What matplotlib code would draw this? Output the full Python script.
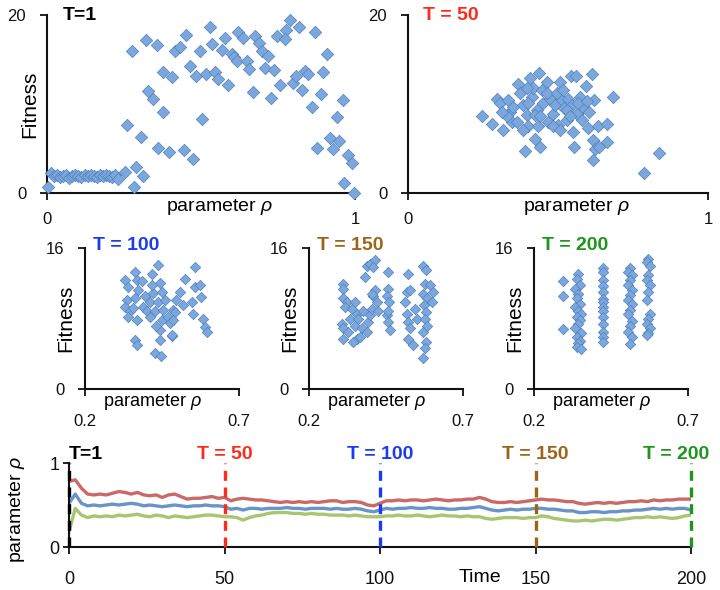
import numpy as np
import matplotlib
matplotlib.use("Agg")
import matplotlib.pyplot as plt

plt.rcParams['font.family'] = ['Liberation Sans', 'DejaVu Sans']
plt.rcParams['mathtext.fontset'] = 'custom'
plt.rcParams['mathtext.it'] = 'Liberation Sans:italic'
plt.rcParams['mathtext.rm'] = 'Liberation Sans'

# ---- T=1 population (rho, fitness)
t1_rho = [0.004, 0.012, 0.022, 0.032, 0.042, 0.052, 0.062, 0.072, 0.082, 0.092, 0.102,
          0.112, 0.122, 0.132, 0.142, 0.152, 0.162, 0.172, 0.182, 0.192, 0.202, 0.212,
          0.222, 0.230, 0.253, 0.284, 0.290, 0.313,
          0.275, 0.261, 0.305, 0.321, 0.356, 0.329, 0.345, 0.378, 0.405, 0.375, 0.361,
          0.396, 0.416, 0.432, 0.451, 0.445, 0.475, 0.464, 0.483, 0.497, 0.504, 0.515,
          0.529, 0.535, 0.547, 0.554, 0.567, 0.578, 0.589, 0.600, 0.608, 0.621, 0.637,
          0.616, 0.648, 0.657, 0.668, 0.675, 0.689, 0.697, 0.719, 0.708, 0.738, 0.726,
          0.748, 0.758, 0.776, 0.773, 0.789, 0.819, 0.798, 0.810, 0.829, 0.838, 0.849,
          0.859, 0.870, 0.890, 0.897, 0.908, 0.878, 0.919, 0.928, 0.949, 0.940, 0.960,
          0.978, 0.989, 0.964, 0.997]
t1_fit = [0.7, 2.2, 1.9, 2.0, 1.8, 1.9, 2.0, 1.7, 1.9, 2.0, 1.9,
          1.8, 2.0, 1.9, 2.0, 1.9, 1.8, 2.0, 1.9, 2.0, 1.9, 1.8,
          2.0, 1.6, 2.4, 0.7, 2.9, 1.9,
          15.9, 7.6, 6.3, 17.2, 16.6, 11.5, 10.6, 13.6, 13.0, 9.1, 5.1,
          4.6, 16.0, 16.4, 17.8, 4.8, 3.8, 14.3, 13.1, 16.0, 8.3, 13.4,
          18.6, 16.7, 13.6, 12.8, 16.1, 17.4, 12.1, 15.6, 15.3, 18.1, 17.4,
          14.8, 14.8, 13.9, 11.3, 17.6, 16.9, 15.9, 15.4, 14.0, 13.8, 10.7,
          17.6, 12.1, 18.3, 17.3, 19.4, 18.6, 12.4, 13.1, 11.6, 13.7, 13.4,
          9.7, 18.1, 11.1, 13.6, 15.6, 5.1, 6.2, 5.0, 5.8, 8.5, 10.5,
          4.3, 3.4, 1.1, 0.0]

# ---- T=50 population
t50_rho = [0.246, 0.279, 0.296, 0.305, 0.318, 0.334, 0.340, 0.351, 0.346, 0.368,
           0.373, 0.384, 0.390, 0.398, 0.401, 0.407, 0.412, 0.418, 0.423, 0.429,
           0.434, 0.438, 0.440, 0.446, 0.451, 0.462, 0.468, 0.473, 0.482, 0.490,
           0.501, 0.507, 0.512, 0.520, 0.529, 0.534, 0.542, 0.545, 0.551, 0.553,
           0.560, 0.562, 0.573, 0.584, 0.593, 0.601, 0.604, 0.612, 0.615, 0.618,
           0.621, 0.623, 0.634, 0.638, 0.662, 0.662, 0.684, 0.787, 0.838,
           0.384, 0.401, 0.423, 0.462, 0.484, 0.496, 0.518, 0.529, 0.540, 0.568,
           0.579, 0.596, 0.329, 0.362, 0.312, 0.396, 0.440, 0.507]
t50_fit = [8.7, 7.7, 10.6, 10.1, 7.1, 10.4, 9.1, 9.7, 8.0, 12.3,
           11.2, 9.9, 4.7, 8.8, 7.5, 12.9, 10.8, 11.8, 6.1, 9.3,
           7.5, 13.5, 5.2, 11.6, 10.1, 12.5, 8.0, 10.6, 8.9, 9.9,
           7.6, 12.5, 10.4, 9.5, 8.2, 10.6, 13.1, 9.9, 6.9, 5.2,
           13.1, 8.9, 10.8, 9.7, 12.0, 7.3, 9.1, 13.4, 5.9, 3.7,
           10.4, 4.9, 7.5, 5.2, 7.8, 5.7, 10.8, 2.3, 4.5,
           7.1, 10.1, 8.8, 11.2, 7.5, 11.2, 11.6, 9.3, 8.6, 10.1,
           8.2, 10.3, 8.6, 8.0, 9.1, 11.8, 8.6, 7.1]

# ---- T=100 population
t100_rho = [0.330, 0.341, 0.335, 0.330, 0.346, 0.341, 0.362, 0.368, 0.373, 0.362,
            0.357, 0.368, 0.362, 0.368, 0.386, 0.395, 0.389, 0.400, 0.416, 0.422,
            0.411, 0.427, 0.438, 0.443, 0.449, 0.438, 0.454, 0.449, 0.443, 0.459,
            0.470, 0.476, 0.481, 0.443, 0.427, 0.446, 0.411, 0.432, 0.487, 0.497,
            0.416, 0.557, 0.524, 0.508, 0.519, 0.546, 0.551, 0.557, 0.573, 0.578,
            0.584, 0.589, 0.595, 0.492, 0.487, 0.481]
t100_fit = [12.4, 11.6, 10.1, 9.3, 8.8, 8.2, 13.3, 12.4, 11.2, 10.3,
            9.2, 7.8, 5.6, 5.0, 12.2, 10.5, 9.3, 8.8, 13.1, 10.9,
            9.9, 8.8, 14.1, 12.0, 11.0, 9.9, 9.0, 7.8, 6.7, 10.1,
            8.2, 7.5, 6.0, 5.6, 4.1, 3.8, 8.2, 7.1, 9.0, 10.1,
            11.8, 13.8, 12.5, 11.0, 9.5, 9.9, 8.5, 11.6, 11.8, 10.4,
            8.0, 7.0, 6.5, 8.7, 7.8, 6.1]

# ---- T=150 population
t150_rho = [0.311, 0.311, 0.311, 0.322, 0.316, 0.306, 0.311, 0.311, 0.327, 0.333,
            0.339, 0.349, 0.355, 0.360, 0.349, 0.355, 0.344, 0.366, 0.371, 0.376,
            0.382, 0.387, 0.398, 0.414, 0.409, 0.392, 0.398, 0.387, 0.403, 0.409,
            0.414, 0.420, 0.403, 0.425, 0.457, 0.457, 0.454, 0.460, 0.452, 0.457,
            0.463, 0.457, 0.522, 0.517, 0.512, 0.517, 0.522, 0.528, 0.522, 0.539,
            0.528, 0.544, 0.550, 0.571, 0.580, 0.577, 0.571, 0.582, 0.573, 0.580,
            0.577, 0.582, 0.571, 0.580, 0.577, 0.571, 0.593, 0.601, 0.598]
t150_fit = [11.9, 11.4, 10.3, 9.9, 9.3, 7.4, 6.9, 5.7, 6.5, 8.0,
            9.1, 9.9, 8.5, 8.0, 7.2, 5.7, 5.3, 5.9, 6.9, 8.9,
            12.7, 14.0, 14.2, 14.6, 13.8, 7.6, 8.4, 6.5, 9.1, 10.6,
            11.2, 9.9, 10.8, 8.9, 13.3, 11.4, 10.6, 9.9, 8.4, 7.6,
            6.7, 8.9, 13.1, 11.0, 9.9, 8.5, 7.6, 6.9, 5.7, 5.0,
            11.2, 9.1, 8.0, 14.0, 13.5, 11.9, 10.8, 10.3, 9.5, 8.7,
            8.0, 7.2, 6.5, 5.3, 4.6, 3.5, 11.8, 11.0, 9.9]

# ---- T=200 population
t200_rho = [0.295, 0.295, 0.295,
            0.344, 0.338, 0.350, 0.333, 0.344, 0.338, 0.350, 0.333, 0.344, 0.354,
            0.338, 0.350, 0.344, 0.333, 0.354, 0.338, 0.350, 0.344, 0.338, 0.354,
            0.425, 0.425, 0.425, 0.425, 0.425, 0.425, 0.425, 0.425, 0.425, 0.425,
            0.425, 0.425, 0.425, 0.425,
            0.511, 0.506, 0.517, 0.511, 0.506, 0.517, 0.511, 0.506, 0.517, 0.511,
            0.506, 0.517, 0.511, 0.506, 0.517, 0.511,
            0.571, 0.566, 0.576, 0.571, 0.566, 0.576, 0.571, 0.566, 0.576, 0.571,
            0.566, 0.576, 0.571, 0.566]
t200_fit = [12.2, 10.5, 6.85,
            13.0, 12.5, 11.8, 11.3, 10.8, 10.3, 9.7, 9.3, 8.9, 8.5,
            8.2, 7.8, 7.4, 6.9, 6.4, 5.9, 5.5, 5.2, 4.8, 4.5,
            13.7, 13.3, 12.4, 11.7, 11.0, 10.2, 9.9, 9.3, 8.9, 8.2,
            7.4, 6.5, 5.9, 5.3,
            13.7, 13.3, 12.9, 12.4, 11.8, 11.2, 10.7, 10.1, 9.6, 9.0,
            8.5, 7.7, 7.1, 6.5, 5.9, 5.1,
            14.8, 14.4, 14.0, 12.9, 12.4, 11.8, 11.0, 10.1, 8.5, 8.0,
            7.4, 6.9, 6.3, 6.1]

# ---- time course of rho (max / mean / min), sampled every 2 steps
time = np.arange(0, 201, 2)
rho_max = [0.78, 0.80, 0.70, 0.63, 0.62, 0.63, 0.62, 0.64, 0.66, 0.65, 0.63, 0.65, 0.62,
           0.61, 0.62, 0.59, 0.62, 0.63, 0.60, 0.57, 0.58, 0.58, 0.59, 0.60, 0.58, 0.59,
           0.55, 0.57, 0.58, 0.57, 0.56, 0.56, 0.55, 0.54, 0.53, 0.54, 0.53, 0.54, 0.53,
           0.54, 0.53, 0.54, 0.55, 0.55, 0.53, 0.54, 0.54, 0.53, 0.50, 0.49, 0.52, 0.55,
           0.55, 0.56, 0.55, 0.56, 0.56, 0.55, 0.56, 0.57, 0.56, 0.55, 0.56, 0.56, 0.57,
           0.57, 0.59, 0.57, 0.54, 0.53, 0.53, 0.54, 0.53, 0.54, 0.55, 0.56, 0.57, 0.56,
           0.56, 0.55, 0.54, 0.54, 0.52, 0.51, 0.52, 0.53, 0.52, 0.53, 0.52, 0.53, 0.54,
           0.54, 0.55, 0.54, 0.56, 0.55, 0.56, 0.56, 0.57, 0.57, 0.57]
rho_mean = [0.52, 0.63, 0.52, 0.49, 0.50, 0.49, 0.50, 0.51, 0.50, 0.51, 0.52, 0.51, 0.49,
            0.50, 0.49, 0.48, 0.49, 0.50, 0.49, 0.48, 0.49, 0.49, 0.50, 0.49, 0.49, 0.48,
            0.45, 0.46, 0.44, 0.46, 0.46, 0.45, 0.46, 0.46, 0.46, 0.47, 0.46, 0.46, 0.45,
            0.46, 0.46, 0.46, 0.45, 0.46, 0.45, 0.45, 0.46, 0.45, 0.43, 0.42, 0.44, 0.46,
            0.45, 0.46, 0.46, 0.47, 0.46, 0.46, 0.47, 0.46, 0.46, 0.45, 0.45, 0.46, 0.46,
            0.47, 0.48, 0.46, 0.44, 0.43, 0.44, 0.45, 0.44, 0.45, 0.45, 0.46, 0.46, 0.45,
            0.45, 0.44, 0.43, 0.43, 0.41, 0.41, 0.42, 0.42, 0.41, 0.42, 0.42, 0.43, 0.43,
            0.44, 0.44, 0.45, 0.46, 0.45, 0.46, 0.45, 0.46, 0.46, 0.44]
rho_min = [0.18, 0.46, 0.38, 0.35, 0.37, 0.36, 0.37, 0.36, 0.38, 0.37, 0.38, 0.39, 0.37,
           0.36, 0.38, 0.37, 0.35, 0.37, 0.36, 0.35, 0.36, 0.37, 0.38, 0.38, 0.37, 0.36,
           0.36, 0.35, 0.32, 0.35, 0.37, 0.38, 0.40, 0.41, 0.41, 0.41, 0.40, 0.40, 0.39,
           0.40, 0.39, 0.39, 0.38, 0.38, 0.38, 0.37, 0.38, 0.37, 0.36, 0.36, 0.36, 0.37,
           0.37, 0.38, 0.37, 0.37, 0.38, 0.37, 0.36, 0.37, 0.38, 0.37, 0.37, 0.36, 0.37,
           0.36, 0.36, 0.34, 0.33, 0.34, 0.35, 0.35, 0.35, 0.34, 0.35, 0.35, 0.37, 0.36,
           0.34, 0.33, 0.32, 0.31, 0.31, 0.32, 0.31, 0.32, 0.33, 0.33, 0.32, 0.33, 0.34,
           0.35, 0.35, 0.36, 0.35, 0.36, 0.35, 0.34, 0.35, 0.37, 0.38]

snap_times = [0, 50, 100, 150, 200]
snap_labels = ['T=1', 'T = 50', 'T = 100', 'T = 150', 'T = 200']
snap_colors = ['#000000', '#ff2a1a', '#1a3cf0', '#9c6419', '#1e961e']

W, H = 720, 590
fig = plt.figure(figsize=(W / 100, H / 100), dpi=100)


def box(l, r, top, bottom):
    return fig.add_axes([l / W, 1 - bottom / H, (r - l) / W, (bottom - top) / H])


def style(ax):
    for s in ['top', 'right']:
        ax.spines[s].set_visible(False)
    for s in ['left', 'bottom']:
        ax.spines[s].set_linewidth(1.5)
        ax.spines[s].set_color('#111111')
    ax.tick_params(direction='out', length=5, width=1.3, colors='#111111')


face = '#7ba7dc'
edge = '#4f81bd'

# top row
for (l, r), rho, fit, k in [((47, 355), t1_rho, t1_fit, 0),
                            ((408, 708), t50_rho, t50_fit, 1)]:
    ax = box(l, r, 15, 193)
    style(ax)
    ax.scatter(rho, fit, marker='D', s=40, c=face, edgecolors=edge, linewidths=0.5,
               clip_on=False, zorder=3)
    ax.set_xlim(0, 1)
    ax.set_ylim(0, 20)
    ax.set_xticks([0, 1])
    ax.set_yticks([0, 20])
    ax.tick_params(axis='x', labelsize=12, pad=9)
    ax.tick_params(axis='y', labelsize=12, pad=10)
    ax.text(0.56, -0.08, r'parameter $\rho$', transform=ax.transAxes, ha='center',
            va='center', fontsize=14)
    if k == 0:
        ax.text(-0.055, 0.5, 'Fitness', transform=ax.transAxes, rotation=90,
                ha='center', va='center', fontsize=15)
    ax.text(0.05, 1.0, snap_labels[k], transform=ax.transAxes, ha='left', va='center',
            fontsize=14, fontweight='bold', color=snap_colors[k])

# middle row
mid = [((85, 239), t100_rho, t100_fit, 2), ((309, 463), t150_rho, t150_fit, 3),
       ((534, 688), t200_rho, t200_fit, 4)]
for (l, r), rho, fit, k in mid:
    ax = box(l, r, 248, 389)
    style(ax)
    ax.scatter(rho, fit, marker='D', s=28, c=face, edgecolors=edge, linewidths=0.5,
               clip_on=False, zorder=3)
    ax.set_xlim(0.2, 0.7)
    ax.set_ylim(0, 16)
    ax.set_xticks([0.2, 0.7])
    ax.set_xticklabels(['0.2', '0.7'])
    ax.set_yticks([0, 16])
    ax.tick_params(axis='x', labelsize=12, pad=13)
    ax.tick_params(axis='y', labelsize=12, pad=10)
    ax.text(0.44, -0.095, r'parameter $\rho$', transform=ax.transAxes, ha='center',
            va='center', fontsize=13)
    ax.text(-0.125, 0.5, 'Fitness', transform=ax.transAxes, rotation=90,
            ha='center', va='center', fontsize=15)
    ax.text(0.05, 1.02, snap_labels[k], transform=ax.transAxes, ha='left', va='center',
            fontsize=14, fontweight='bold', color=snap_colors[k])

# bottom time course
ax = box(69, 691, 463, 547)
style(ax)
ax.plot(time, rho_max, color='#c0504d', lw=2.4, alpha=0.85, zorder=2)
ax.plot(time, rho_mean, color='#4f81bd', lw=2.4, alpha=0.85, zorder=2)
ax.plot(time, rho_min, color='#9bbb59', lw=2.4, alpha=0.85, zorder=2)
for t, lab, col in zip(snap_times, snap_labels, snap_colors):
    ax.plot([t, t], [0, 1], color=col, lw=2.4, ls=(0, (3, 2)), zorder=3, clip_on=False)
    ha = 'left' if t == 0 else ('right' if t == 200 else 'center')
    xt = t + 6 if t == 200 else t
    ax.text(xt, 1.1, lab, ha=ha, va='center', fontsize=14,
            fontweight='bold', color=col)
ax.set_xlim(0, 200)
ax.set_ylim(0, 1)
ax.set_xticks(snap_times)
ax.set_yticks([0, 1])
ax.tick_params(axis='x', labelsize=13, pad=12)
ax.tick_params(axis='y', labelsize=13, pad=3, length=4)
ax.text(0.66, -0.36, 'Time', transform=ax.transAxes, ha='center', va='center',
        fontsize=14)
ax.text(-0.083, 0.45, r'parameter $\rho$', transform=ax.transAxes, rotation=90,
        ha='center', va='center', fontsize=14)

fig.savefig('out.png', dpi=100)
